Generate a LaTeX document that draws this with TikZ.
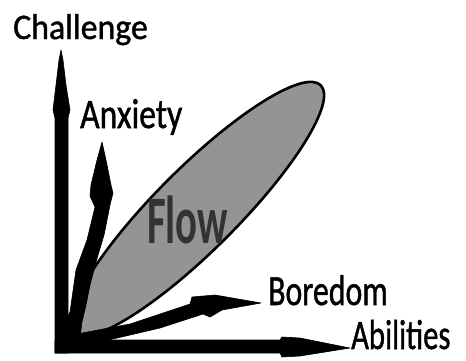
\documentclass[tikz,border=0pt]{standalone}
\usepackage{fontspec}
\usepackage{graphicx}
\setmainfont{Carlito}
\newfontfamily\lblfont[FakeBold=1.2]{Carlito}
\newcommand\mylbl[3]{\scalebox{#1}[1]{\fontsize{#2}{#2}\lblfont #3}}
\begin{document}
\begin{tikzpicture}[x=1pt,y=-1pt,
  lbl/.style={inner sep=0pt,anchor=base west,text=black},
  blk/.style={fill=black,draw=black,line width=0.6pt,line join=round}]
\useasboundingbox (0,0) rectangle (466,360);
% Flow region
\draw[line width=2.6pt,fill=black!42,rotate around={45:(197,209)}]
  (197,209) ellipse [x radius=175, y radius=41];
\node[lbl,text=black!80] (flow) at (147,243) {\scalebox{0.6}[1]{\fontsize{68pt}{68pt}\selectfont\bfseries Flow}};
% vertical axis (Challenge)
\fill[blk] (55,353) -- (55,118) -- (53,110) -- (56,85) -- (59,60) -- (61,50)
  -- (63,60) -- (66,85) -- (70,110) -- (68,118) -- (68,353) -- cycle;
% horizontal axis (Abilities)
\fill[blk] (55,340) -- (280,340) -- (282,337) -- (300,338) -- (350,348)
  -- (300,356) -- (282,357) -- (280,353) -- (55,353) -- cycle;
% anxiety arrow
\fill[blk] (102,142) -- (106,160) -- (111,185) -- (113,193) -- (110,205)
  -- (104,235) -- (96,262) -- (90,285) -- (86,305) -- (82,322) -- (80,338)
  -- (62,345) -- (60,330)
  -- (70,312) -- (76,270) -- (87,240) -- (95,207) -- (90,196) -- (91,185)
  -- (97,160) -- cycle;
% boredom arrow
\fill[blk] (62,345) -- (66,336) -- (130,324) -- (190,304) -- (192,297)
  -- (215,295) -- (261,303) -- (222,310) -- (210,317) -- (203,314)
  -- (160,328) -- (100,342) -- (62,350) -- cycle;
% labels
\node[lbl] (challenge) at (13,39) {\mylbl{0.94}{36pt}{Challenge}};
\node[lbl] (anxiety) at (80,128) {\mylbl{0.80}{42pt}{Anxiety}};
\node[lbl] (boredom) at (268,305) {\mylbl{0.74}{43pt}{Boredom}};
\node[lbl] (abilities) at (351,349) {\mylbl{0.73}{42pt}{Abilities}};
\end{tikzpicture}
\end{document}
